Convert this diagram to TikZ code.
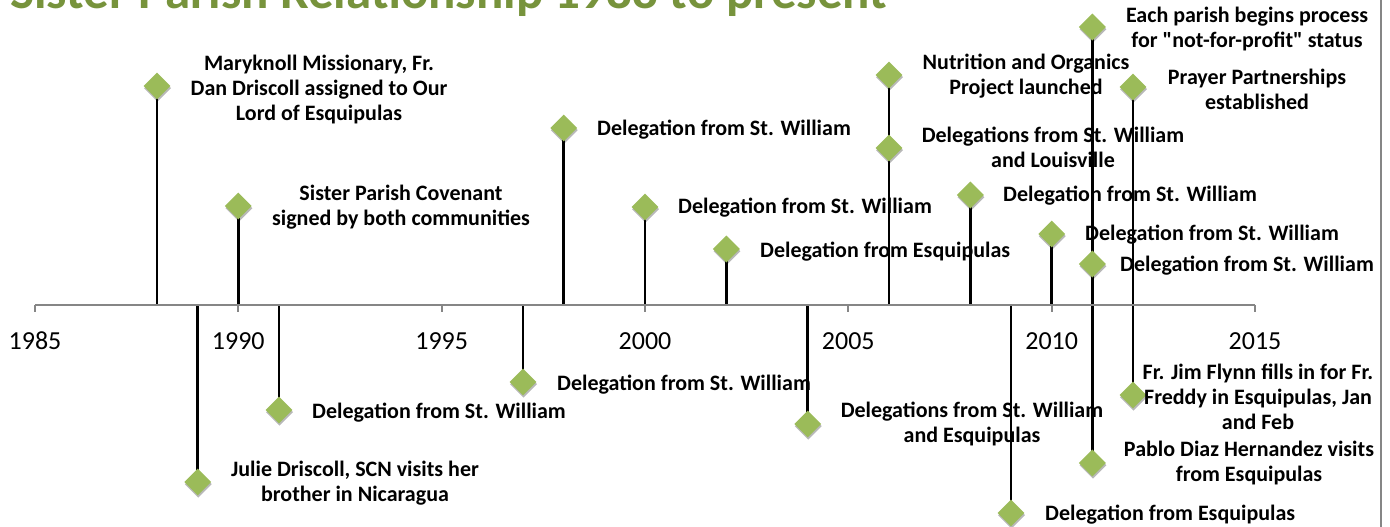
\documentclass[tikz,border=0pt]{standalone}
\usepackage{fontspec}
\setmainfont{Carlito}[Ligatures=TeXOff]
\usetikzlibrary{shapes.geometric,shadows,backgrounds}
\definecolor{dgreen}{HTML}{9BBB59}
\definecolor{tgreen}{HTML}{77933C}
\definecolor{axisgray}{HTML}{868686}
\begin{document}
\begin{tikzpicture}[x=1pt,y=-1pt,
  gem/.style={diamond, fill=dgreen, inner sep=0pt, minimum width=27pt, minimum height=27pt,
    drop shadow={shadow xshift=0.6pt, shadow yshift=-2.2pt, opacity=0.28, fill=black}},
  stem/.style={line width=2.6pt, black},
  lbl/.style={font=\fontsize{22}{25}\selectfont\bfseries, align=center, inner sep=0pt, text=black},
  yr/.style={font=\fontsize{26}{30}\selectfont, inner sep=0pt, text=black},
  ax/.style={line width=2.2pt, axisgray}]
\useasboundingbox (0,0) rectangle (1390,527);

% title (cut off at the top)
\node[anchor=base west, font=\fontsize{51}{60}\selectfont\bfseries, text=tgreen, inner sep=0pt] (title) at (10,9) {Sister Parish Relationship 1988 to present};

% right border
\coordinate (bt) at (1381,0);
\coordinate (bb) at (1381,527);
\draw[axisgray, line width=1.5pt] (bt) -- (bb);

% axis
\coordinate (y85) at (35,305);
\coordinate (y15) at (1255,305);
\draw[ax] (y85) -- (y15);
\foreach \x/\n in {35/1985,238.3/1990,441.7/1995,645/2000,848.3/2005,1051.7/2010,1255/2015}{
  \coordinate (t\n) at (\x,305);
  \coordinate (u\n) at (\x,312);
  \draw[ax] (t\n) -- (u\n);
  \node[yr] (yl\n) at (\x,341) {\n};
}

% axis points of the stems
\coordinate (a88) at (157,305);
\coordinate (a89) at (197.7,305);
\coordinate (a90) at (238.3,305);
\coordinate (a91) at (279,305);
\coordinate (a97) at (523,305);
\coordinate (a98) at (563.7,305);
\coordinate (a00) at (645,305);
\coordinate (a02) at (726.4,305);
\coordinate (a04) at (807.7,305);
\coordinate (a06) at (889,305);
\coordinate (a08) at (970.4,305);
\coordinate (a09) at (1011,305);
\coordinate (a10) at (1051.7,305);

% diamonds
\node[gem] (d88) at (157,86) {};
\node[gem] (d89) at (197.7,482) {};
\node[gem] (d90) at (238.3,206) {};
\node[gem] (d91) at (279,410) {};
\node[gem] (d97) at (523,382) {};
\node[gem] (d98) at (563.7,128) {};
\node[gem] (d00) at (645,207) {};
\node[gem] (d02) at (726.4,249) {};
\node[gem] (d04) at (807.7,424) {};
\node[gem] (d06a) at (889,75) {};
\node[gem] (d06b) at (889,148) {};
\node[gem] (d08) at (970.4,195) {};
\node[gem] (d09) at (1011,513) {};
\node[gem] (d10) at (1051.7,234) {};
\node[gem] (d11a) at (1092.4,27) {};
\node[gem] (d11b) at (1092.4,264) {};
\node[gem] (d11c) at (1092.4,463) {};
\node[gem] (d12a) at (1133,87) {};
\node[gem] (d12b) at (1133,395) {};

% stems
\begin{scope}[on background layer]
\draw[stem] (d88.center) -- (a88);
\draw[stem] (a89) -- (d89.center);
\draw[stem] (d90.center) -- (a90);
\draw[stem] (a91) -- (d91.center);
\draw[stem] (a97) -- (d97.center);
\draw[stem] (d98.center) -- (a98);
\draw[stem] (d00.center) -- (a00);
\draw[stem] (d02.center) -- (a02);
\draw[stem] (a04) -- (d04.center);
\draw[stem] (d06a.center) -- (a06);
\draw[stem] (d08.center) -- (a08);
\draw[stem] (a09) -- (d09.center);
\draw[stem] (d10.center) -- (a10);
\draw[stem] (d11a.center) -- (d11c.center);
\draw[stem] (d12a.center) -- (d12b.center);
\end{scope}

% labels
\node[lbl] (l88) at (319,90) {Maryknoll Missionary, Fr.\\Dan Driscoll assigned to Our\\Lord of Esquipulas};
\node[lbl] (l89) at (355,483) {Julie Driscoll, SCN visits her\\brother in Nicaragua};
\node[lbl] (l90) at (401,207.5) {Sister Parish Covenant\\signed by both communities};
\node[lbl, anchor=west] (l91) at (312,413) {Delegation from St. William};
\node[lbl, anchor=west] (l97) at (557,385) {Delegation from St. William};
\node[lbl, anchor=west] (l98) at (597,130) {Delegation from St. William};
\node[lbl, anchor=west] (l00) at (678,208) {Delegation from St. William};
\node[lbl, anchor=west] (l02) at (760,252) {Delegation from Esquipulas};
\node[lbl] (l04) at (972,424) {Delegations from St. William\\and Esquipulas};
\node[lbl] (l06a) at (1026,76) {Nutrition and Organics\\Project launched};
\node[lbl] (l06b) at (1053,147.5) {Delegations from St. William\\and Louisville};
\node[lbl, anchor=west] (l08) at (1003,196) {Delegation from St. William};
\node[lbl, anchor=west] (l09) at (1045,515) {Delegation from Esquipulas};
\node[lbl, anchor=west] (l10) at (1085,235) {Delegation from St. William};
\node[lbl] (l11a) at (1247,29.5) {Each parish begins process\\for "not-for-profit" status};
\node[lbl, anchor=west] (l11b) at (1120,266) {Delegation from St. William};
\node[lbl] (l11c) at (1249,463.5) {Pablo Diaz Hernandez visits\\from Esquipulas};
\node[lbl] (l12a) at (1257,89) {Prayer Partnerships\\established};
\node[lbl] (l12b) at (1258,397) {Fr. Jim Flynn fills in for Fr.\\Freddy in Esquipulas, Jan\\and Feb};
\end{tikzpicture}
\end{document}
